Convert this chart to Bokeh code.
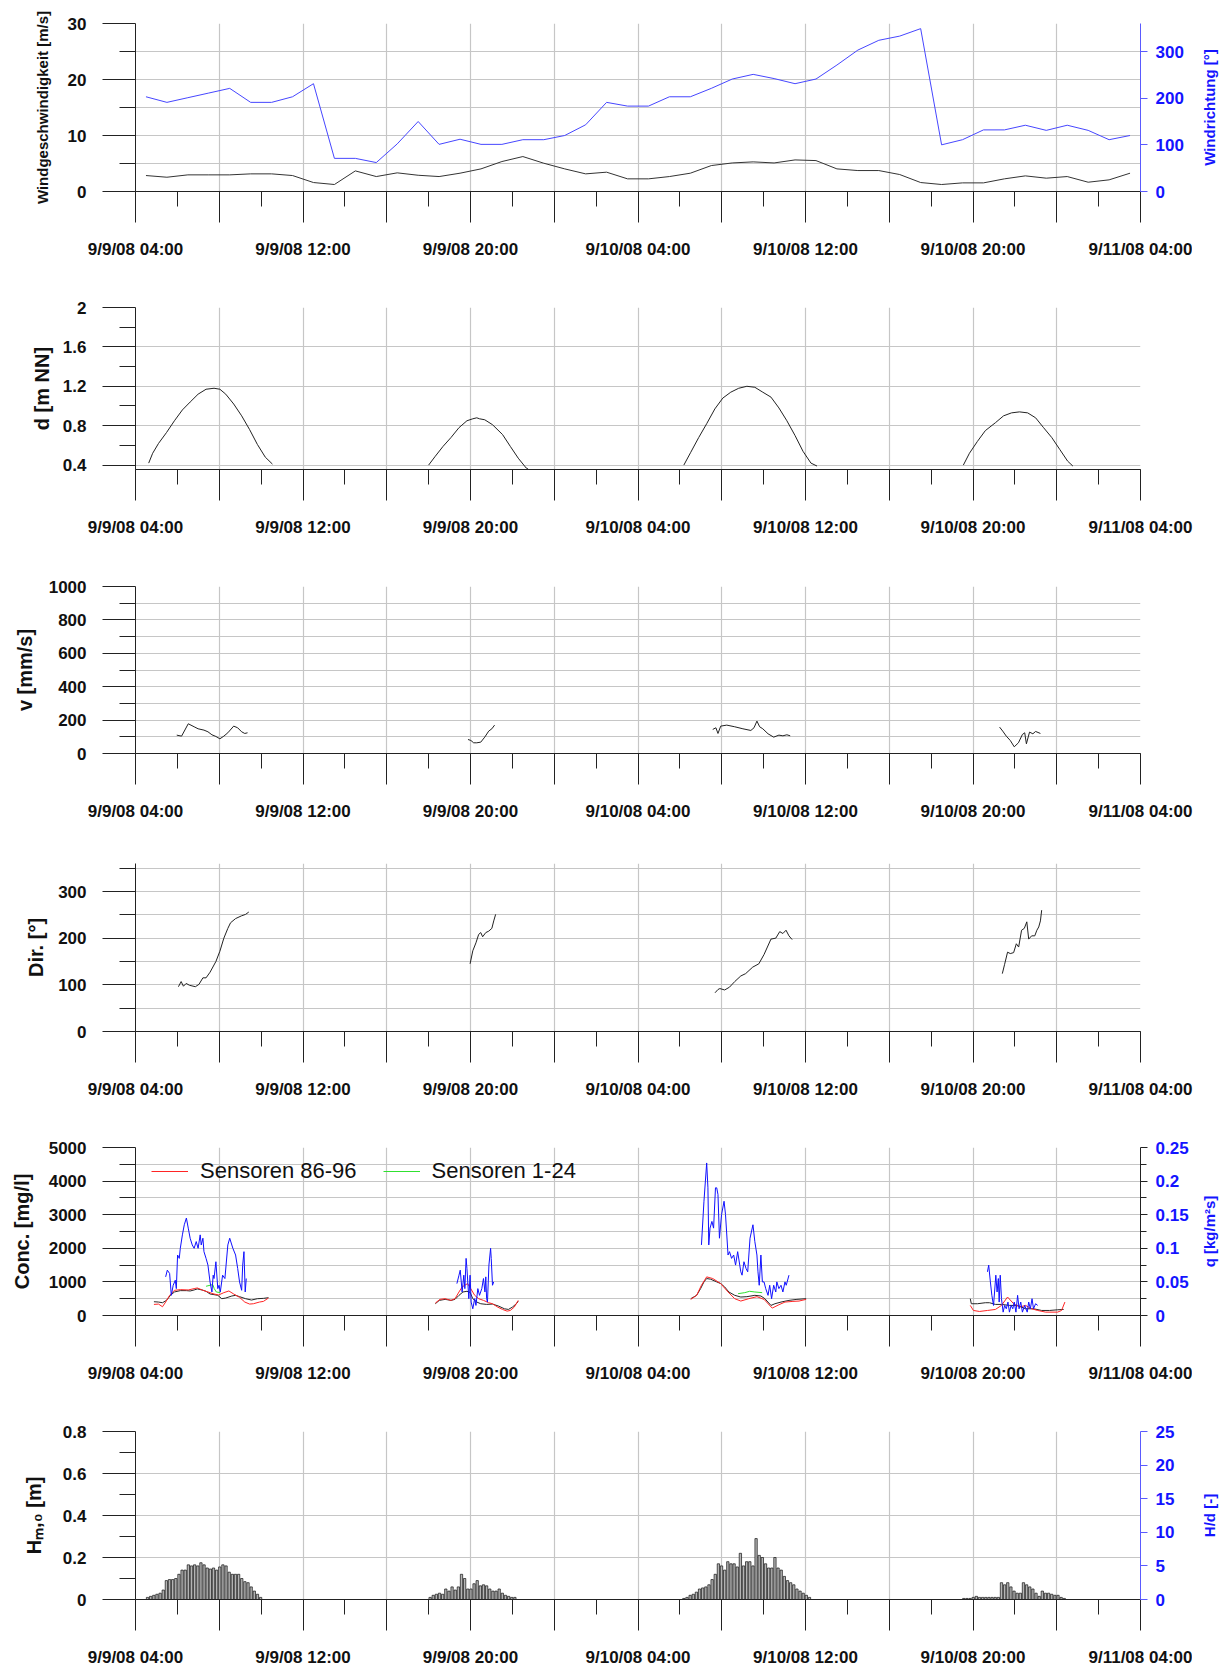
import math
from bokeh.plotting import figure
from bokeh.models import Range1d, LinearAxis, FixedTicker, Legend, LegendItem, Title
from bokeh.layouts import column, row
from bokeh.embed import file_html
from bokeh.resources import INLINE

FONT = "Liberation Sans"
INK = "#222222"
GRID = "#c6c6c6"
BLUE_TXT = "#1414ff"
FRAME_W = 1005

# ---------------- time axis (hours after 9/9/08 04:00) ----------------
time_ticks = [0, 4, 8, 12, 16, 20, 24, 28, 32, 36, 40, 44, 48]
time_minor = list(range(0, 49, 2))
time_labels = {0: "9/9/08 04:00", 8: "9/9/08 12:00", 16: "9/9/08 20:00",
               24: "9/10/08 04:00", 32: "9/10/08 12:00", 40: "9/10/08 20:00",
               48: "9/11/08 04:00"}

# ---------------- wind (hourly values at hh:30) ----------------
wind_t = [h + 0.5 for h in range(48)]
wind_speed = [2.85, 2.55, 2.97, 2.97, 2.97, 3.15, 3.15, 2.85, 1.6, 1.25,
              3.68, 2.67, 3.33, 2.9, 2.67, 3.27, 4.04, 5.35, 6.24, 5.05,
              4.04, 3.15, 3.45, 2.26, 2.26, 2.67, 3.27, 4.63, 5.1, 5.29,
              5.1, 5.64, 5.52, 4.04, 3.74, 3.74, 3.03, 1.6, 1.25, 1.54,
              1.54, 2.26, 2.79, 2.38, 2.67, 1.66, 2.08, 3.27]
wind_dir = [203, 191, 201, 211, 221, 191, 191, 203, 231, 71,
            71, 62, 102, 150, 101, 112, 101, 101, 111, 111,
            120, 143, 191, 183, 183, 203, 203, 221, 241, 251,
            242, 231, 241, 271, 303, 324, 333, 349, 100, 111,
            132, 132, 142, 131, 142, 131, 111, 120]

# ---------------- water depth d [m NN], four submerged periods ----------------
d_t = [[0.63, 0.82, 1.10, 1.48, 1.86, 2.24, 2.61, 2.99, 3.37, 3.75, 4.03, 4.31, 4.69, 5.07, 5.45, 5.82, 6.20, 6.54],
       [14.00, 14.32, 14.69, 15.07, 15.45, 15.83, 16.11, 16.30, 16.43, 16.68, 17.05, 17.53, 17.90, 18.28, 18.66, 18.75],
       [26.19, 26.52, 26.90, 27.28, 27.67, 28.05, 28.43, 28.81, 29.20, 29.58, 29.96, 30.35, 30.73, 31.11, 31.50, 31.88, 32.26, 32.55],
       [39.54, 39.83, 40.21, 40.59, 41.07, 41.46, 41.84, 42.22, 42.61, 42.99, 43.37, 43.76, 44.14, 44.52, 44.77]]
d_val = [[0.42, 0.52, 0.62, 0.73, 0.85, 0.96, 1.04, 1.12, 1.17, 1.18, 1.17, 1.12, 1.02, 0.90, 0.76, 0.61, 0.48, 0.41],
         [0.40, 0.49, 0.59, 0.68, 0.78, 0.85, 0.87, 0.88, 0.87, 0.86, 0.81, 0.71, 0.59, 0.47, 0.37, 0.36],
         [0.40, 0.53, 0.68, 0.82, 0.97, 1.08, 1.14, 1.18, 1.20, 1.19, 1.14, 1.09, 0.98, 0.85, 0.70, 0.54, 0.42, 0.39],
         [0.40, 0.52, 0.64, 0.75, 0.83, 0.90, 0.93, 0.94, 0.93, 0.88, 0.78, 0.68, 0.56, 0.44, 0.39]]

# ---------------- current velocity v [mm/s] ----------------
v_t = [[1.97, 2.20, 2.52, 2.80, 2.99, 3.27, 3.46, 3.65, 3.84, 4.03, 4.22, 4.41, 4.69, 4.88, 5.07, 5.22, 5.35],
       [15.88, 16.02, 16.15, 16.30, 16.49, 16.68, 16.87, 17.02, 17.15],
       [27.57, 27.72, 27.82, 27.95, 28.24, 28.62, 29.01, 29.39, 29.54, 29.68, 29.81, 29.96, 30.21, 30.48, 30.73, 30.92, 31.11, 31.27],
       [41.27, 41.42, 41.59, 41.78, 41.97, 42.17, 42.36, 42.47, 42.55, 42.70, 42.86, 42.99, 43.22]]
v_val = [[110, 104, 178, 160, 148, 140, 130, 112, 102, 88, 104, 124, 164, 154, 130, 120, 124],
         [84, 78, 64, 64, 68, 98, 134, 148, 170],
         [144, 154, 120, 164, 170, 160, 148, 138, 154, 194, 160, 148, 118, 98, 110, 106, 112, 106],
         [158, 134, 104, 78, 40, 64, 114, 124, 58, 128, 118, 132, 120]]

# ---------------- current direction [deg] ----------------
dir_t = [[2.05, 2.18, 2.29, 2.42, 2.58, 2.86, 3.03, 3.22, 3.37, 3.56, 3.84, 4.03, 4.22, 4.41, 4.54, 4.78, 5.07, 5.26, 5.41],
         [15.98, 16.11, 16.26, 16.39, 16.49, 16.58, 16.73, 16.87, 17.02, 17.11, 17.20],
         [27.68, 27.82, 27.91, 28.14, 28.37, 28.62, 28.91, 29.14, 29.48, 29.77, 30.02, 30.35, 30.58, 30.77, 30.92, 31.07, 31.21, 31.36],
         [41.40, 41.51, 41.65, 41.78, 41.94, 42.07, 42.18, 42.32, 42.45, 42.57, 42.66, 42.80, 42.95, 43.05, 43.14, 43.22, 43.28]]
dir_val = [[96, 107, 97, 103, 99, 96, 101, 115, 115, 127, 150, 172, 200, 221, 233, 242, 248, 251, 256],
           [145, 173, 190, 208, 212, 203, 212, 215, 221, 237, 251],
           [83, 90, 92, 89, 95, 107, 119, 124, 138, 145, 165, 198, 200, 214, 210, 217, 205, 197],
           [124, 144, 170, 167, 169, 188, 181, 217, 221, 235, 198, 205, 205, 217, 224, 237, 260]]

# ---------------- suspended sediment concentration [mg/l] ----------------
conc_t = [[0.88, 1.10, 1.29, 1.48, 1.67, 1.86, 2.14, 2.43, 2.61, 2.80, 2.95, 3.18, 3.37, 3.56, 3.75, 3.93, 4.12, 4.31, 4.60, 4.78, 4.97, 5.26, 5.54, 5.82, 6.11, 6.35],
          [14.32, 14.51, 14.79, 15.07, 15.26, 15.45, 15.64, 15.83, 15.98, 16.11, 16.30, 16.49, 16.77, 17.05, 17.34, 17.62, 17.81, 18.00, 18.19, 18.28],
          [26.52, 26.80, 26.99, 27.15, 27.28, 27.47, 27.76, 27.95, 28.14, 28.34, 28.62, 28.91, 29.20, 29.58, 29.87, 30.06, 30.35, 30.54, 30.83, 31.21, 31.59, 32.03],
          [39.87, 39.92, 40.21, 40.59, 40.79, 41.07, 41.36, 41.74, 42.13, 42.51, 42.89, 43.28, 43.66, 44.04, 44.33]]
conc_val = [[410, 400, 380, 450, 600, 700, 740, 740, 730, 760, 790, 760, 720, 640, 620, 600, 500, 520, 580, 600, 560, 500, 460, 500, 510, 530],
            [350, 450, 480, 450, 480, 600, 700, 720, 690, 500, 400, 350, 330, 340, 280, 200, 180, 250, 350, 420],
            [500, 600, 800, 1000, 1100, 1080, 1000, 950, 850, 700, 600, 550, 560, 600, 580, 500, 300, 350, 400, 450, 480, 500],
            [500, 350, 350, 380, 380, 330, 330, 300, 300, 200, 200, 150, 150, 170, 180]]

s86_t = [[0.88, 1.10, 1.29, 1.44, 1.63, 1.86, 2.14, 2.52, 2.80, 2.95, 3.18, 3.46, 3.75, 3.97, 4.22, 4.46, 4.69, 4.97, 5.22, 5.45, 5.63, 5.92, 6.11, 6.35],
         [14.32, 14.54, 14.79, 15.07, 15.26, 15.45, 15.60, 15.73, 15.86, 16.01, 16.20, 16.39, 16.62, 16.87, 17.05, 17.30, 17.53, 17.75, 17.90, 18.09, 18.28],
         [26.52, 26.80, 27.03, 27.28, 27.57, 27.95, 28.30, 28.62, 28.91, 29.29, 29.68, 30.02, 30.41, 30.73, 31.02, 31.40, 31.69, 32.03],
         [39.87, 40.02, 40.31, 40.69, 41.07, 41.36, 41.65, 41.94, 42.22, 42.51, 42.80, 43.09, 43.47, 44.04, 44.23, 44.39]]
s86_val = [[330, 340, 260, 400, 600, 750, 770, 760, 800, 820, 760, 700, 640, 610, 680, 730, 640, 540, 400, 340, 350, 400, 420, 520],
           [370, 480, 500, 450, 500, 700, 850, 900, 950, 800, 600, 500, 450, 380, 350, 250, 180, 130, 150, 250, 450],
           [480, 600, 900, 1150, 1100, 950, 700, 500, 430, 500, 560, 480, 220, 320, 400, 420, 430, 480],
           [300, 150, 120, 150, 180, 300, 550, 350, 250, 300, 200, 150, 100, 100, 150, 400]]

s1_t = [[3.37, 3.56, 3.69, 3.76, 3.86, 4.05],
        [28.78, 29.10, 29.33, 29.58, 29.93]]
s1_val = [[870, 900, 920, 800, 700, 680],
          [650, 680, 720, 700, 680]]

# ---------------- sediment flux q [kg/m²s] ----------------
q_t = [[1.44, 1.52, 1.63, 1.71, 1.80, 1.90, 1.95, 2.01, 2.09, 2.14, 2.24, 2.33, 2.43, 2.52, 2.61, 2.71, 2.80, 2.90, 2.99, 3.09,
        3.14, 3.22, 3.27, 3.37, 3.46, 3.56, 3.65, 3.71, 3.75, 3.84, 3.93, 3.99, 4.05, 4.16, 4.27, 4.41, 4.50, 4.65, 4.78, 4.88,
        4.97, 5.07, 5.12, 5.18, 5.24, 5.29],
       [15.35, 15.45, 15.51, 15.60, 15.68, 15.73, 15.79, 15.83, 15.92, 15.98, 16.03, 16.11, 16.20, 16.26, 16.35, 16.43, 16.54,
        16.62, 16.69, 16.73, 16.77, 16.81, 16.88, 16.96, 16.99, 17.05, 17.11],
       [27.03, 27.15, 27.28, 27.34, 27.38, 27.44, 27.53, 27.61, 27.70, 27.76, 27.82, 27.89, 27.99, 28.11, 28.18, 28.30, 28.37,
        28.47, 28.57, 28.66, 28.76, 28.91, 28.97, 29.06, 29.16, 29.24, 29.35, 29.49, 29.58, 29.68, 29.73, 29.79, 29.87, 29.94,
        30.02, 30.10, 30.21, 30.29, 30.38, 30.48, 30.58, 30.63, 30.73, 30.83, 30.92, 31.02, 31.08, 31.21],
       [40.69, 40.75, 40.83, 40.90, 40.98, 41.03, 41.09, 41.15, 41.21, 41.25, 41.30, 41.36, 41.44, 41.51, 41.59, 41.67, 41.74,
        41.82, 41.90, 41.97, 42.05, 42.13, 42.20, 42.28, 42.36, 42.47, 42.59, 42.66, 42.74, 42.82, 42.89, 42.99, 43.09]]
q_val = [[0.0575, 0.0675, 0.0625, 0.03, 0.045, 0.0525, 0.04, 0.09, 0.085, 0.10, 0.12, 0.135, 0.145, 0.13, 0.115, 0.105, 0.10,
          0.11, 0.10, 0.12, 0.105, 0.115, 0.095, 0.085, 0.075, 0.05, 0.035, 0.06, 0.055, 0.08, 0.04, 0.045, 0.035, 0.06, 0.055,
          0.105, 0.115, 0.10, 0.09, 0.07, 0.05, 0.0375, 0.075, 0.095, 0.035, 0.055],
         [0.0475, 0.06, 0.0675, 0.035, 0.06, 0.04, 0.085, 0.07, 0.025, 0.06, 0.02, 0.01, 0.025, 0.015, 0.04, 0.03, 0.04, 0.055,
          0.035, 0.0575, 0.025, 0.02, 0.075, 0.10, 0.085, 0.045, 0.05],
         [0.105, 0.17, 0.227, 0.19, 0.105, 0.13, 0.14, 0.13, 0.19, 0.19, 0.18, 0.115, 0.15, 0.17, 0.15, 0.09, 0.095, 0.085, 0.09,
          0.075, 0.095, 0.065, 0.06, 0.08, 0.07, 0.065, 0.115, 0.135, 0.11, 0.09, 0.065, 0.045, 0.09, 0.05, 0.05, 0.04, 0.03,
          0.045, 0.025, 0.045, 0.035, 0.05, 0.04, 0.045, 0.035, 0.05, 0.045, 0.06],
         [0.065, 0.075, 0.05, 0.03, 0.015, 0.035, 0.06, 0.035, 0.055, 0.02, 0.06, 0.025, 0.005, 0.015, 0.01, 0.02, 0.005, 0.015,
          0.01, 0.02, 0.005, 0.03, 0.01, 0.02, 0.005, 0.015, 0.005, 0.02, 0.01, 0.025, 0.01, 0.0175, 0.015]]

# ---------------- significant wave height Hm0 [m], bursts every 0.15 h ----------------
hm0_start = [0.575, 14.07, 26.19, 39.56]
hm0_step = 0.15
hm0_val = [[0.01, 0.015, 0.02, 0.025, 0.03, 0.045, 0.09, 0.095, 0.095, 0.10, 0.12, 0.14, 0.14, 0.165, 0.16, 0.165, 0.16,
            0.175, 0.165, 0.15, 0.145, 0.15, 0.14, 0.155, 0.165, 0.16, 0.13, 0.12, 0.12, 0.12, 0.10, 0.085, 0.08, 0.06,
            0.04, 0.025, 0.01],
           [0.01, 0.02, 0.025, 0.03, 0.025, 0.05, 0.04, 0.06, 0.045, 0.06, 0.12, 0.10, 0.05, 0.05, 0.075, 0.09, 0.065,
            0.07, 0.065, 0.05, 0.04, 0.04, 0.05, 0.03, 0.02, 0.015, 0.01, 0.01],
           [0.005, 0.01, 0.02, 0.025, 0.035, 0.05, 0.055, 0.06, 0.07, 0.095, 0.12, 0.17, 0.16, 0.14, 0.18, 0.17, 0.17,
            0.155, 0.22, 0.16, 0.18, 0.18, 0.16, 0.29, 0.21, 0.20, 0.17, 0.15, 0.15, 0.20, 0.15, 0.14, 0.11, 0.09, 0.08,
            0.07, 0.05, 0.04, 0.03, 0.02, 0.01],
           [0.005, 0.005, 0.005, 0.01, 0.015, 0.01, 0.01, 0.01, 0.01, 0.01, 0.01, 0.01, 0.08, 0.07, 0.08, 0.06, 0.04,
            0.03, 0.03, 0.08, 0.07, 0.06, 0.05, 0.03, 0.015, 0.04, 0.03, 0.03, 0.025, 0.02, 0.02, 0.01, 0.005]]

RIGHT_W = 52      # border right of a frame that carries a right axis
SIDE_W = 37       # strip holding that axis' title


def style_axis(ax, color=INK, label_color="#111111"):
    ax.axis_line_color = color
    ax.major_tick_line_color = color
    ax.minor_tick_line_color = color
    ax.major_tick_in = 0
    ax.minor_tick_in = 0
    ax.major_label_text_font = FONT
    ax.major_label_text_font_size = "17px"
    ax.major_label_text_font_style = "bold"
    ax.major_label_text_color = label_color
    ax.axis_label_text_font = FONT
    ax.axis_label_text_font_style = "bold"


def panel(top, frame_h, bottom, y_lo, y_hi, ticks, minors, labels, grid,
          title, title_size, title_standoff, right=RIGHT_W + SIDE_W):
    p = figure(frame_width=FRAME_W, frame_height=frame_h,
               min_border_left=135, min_border_right=right,
               min_border_top=top, min_border_bottom=bottom,
               x_range=Range1d(0, 48), y_range=Range1d(y_lo, y_hi),
               output_backend="svg", toolbar_location=None,
               outline_line_color=None, background_fill_color="white",
               border_fill_color="white")
    xa = p.xaxis[0]
    style_axis(xa)
    xa.ticker = FixedTicker(ticks=time_ticks, minor_ticks=time_minor)
    xa.major_label_overrides = {t: time_labels.get(t, "") for t in time_ticks}
    xa.major_tick_out = 31
    xa.minor_tick_out = 15
    xa.major_label_standoff = 17

    ya = p.yaxis[0]
    style_axis(ya)
    ya.ticker = FixedTicker(ticks=ticks, minor_ticks=minors)
    ya.major_label_overrides = dict(zip(ticks, labels))
    ya.major_tick_out = 33
    ya.minor_tick_out = 16
    ya.major_label_standoff = 16
    ya.axis_label = title
    ya.axis_label_text_font_size = title_size
    ya.axis_label_text_color = "#111111"
    ya.axis_label_standoff = title_standoff

    p.xgrid.ticker = FixedTicker(ticks=time_ticks)
    p.ygrid.ticker = FixedTicker(ticks=grid)
    for g in (p.xgrid, p.ygrid):
        g.grid_line_color = GRID
        g.grid_line_width = 1.2
    return p


def right_axis(p, name, lo, hi, ticks, minors, labels, line_color):
    p.extra_y_ranges[name] = Range1d(lo, hi)
    ax = LinearAxis(y_range_name=name,
                    ticker=FixedTicker(ticks=ticks, minor_ticks=minors))
    style_axis(ax, color=line_color, label_color=BLUE_TXT)
    ax.major_label_overrides = dict(zip(ticks, labels))
    ax.major_tick_out = 7
    ax.minor_tick_out = 6
    ax.major_label_standoff = 8
    p.add_layout(ax, "right")
    return ax


def side_title(text, top, frame_h, bottom):
    # narrow strip whose left-hand title reads bottom-to-top
    s = figure(frame_width=12, frame_height=frame_h,
               min_border_left=SIDE_W - 12, min_border_right=0,
               min_border_top=top, min_border_bottom=bottom,
               x_range=Range1d(0, 1), y_range=Range1d(0, 1),
               x_axis_location=None, y_axis_location=None,
               output_backend="svg", toolbar_location=None,
               outline_line_color=None, background_fill_color="white",
               border_fill_color="white")
    for g in s.grid:
        g.visible = False
    s.add_layout(Title(text=text, align="center", text_color=BLUE_TXT,
                       text_font=FONT, text_font_size="15px", text_font_style="bold",
                       standoff=0), "left")
    return s


# ---- wind ----
p1 = panel(23, 168, 89, 0, 30, [0, 10, 20, 30], [5, 15, 25], ["0", "10", "20", "30"],
           [0, 5, 10, 15, 20, 25, 30], "Windgeschwindigkeit [m/s]", "15px", 14, right=RIGHT_W)
p1.extra_y_ranges = {}
right_axis(p1, "dir", 0, 360, [0, 100, 200, 300], [], ["0", "100", "200", "300"], "#5a5aff")
p1.line(wind_t, wind_speed, line_color="#333333", line_width=1)
p1.line(wind_t, wind_dir, y_range_name="dir", line_color="#4646ff", line_width=1)
row1 = row(p1, side_title("Windrichtung [°]", 23, 168, 89), spacing=0)

# ---- water depth ----
p2 = panel(27, 162, 91, 0.355, 2.0, [0.4, 0.8, 1.2, 1.6, 2.0], [0.6, 1.0, 1.4, 1.8],
           ["0.4", "0.8", "1.2", "1.6", "2"], [0.4, 0.8, 1.2, 1.6, 2.0], "d [m NN]", "20px", 7)
p2.multi_line(d_t, d_val, line_color="#222222", line_width=1)

# ---- velocity ----
p3 = panel(26, 167, 87, 0, 1000, [0, 200, 400, 600, 800, 1000], [100, 300, 500, 700, 900],
           ["0", "200", "400", "600", "800", "1000"], list(range(0, 1001, 100)), "v [mm/s]", "20px", 10)
p3.multi_line(v_t, v_val, line_color="#222222", line_width=1)

# ---- current direction ----
p4 = panel(23, 168, 89, 0, 360, [0, 100, 200, 300], [50, 150, 250, 350],
           ["0", "100", "200", "300"], list(range(0, 351, 50)), "Dir. [°]", "20px", 8)
p4.multi_line(dir_t, dir_val, line_color="#222222", line_width=1)

# ---- concentration and flux ----
p5 = panel(27, 168, 85, 0, 5000, [0, 1000, 2000, 3000, 4000, 5000], [500, 1500, 2500, 3500, 4500],
           ["0", "1000", "2000", "3000", "4000", "5000"], list(range(0, 5001, 500)),
           "Conc. [mg/l]", "20px", 13, right=RIGHT_W)
p5.extra_y_ranges = {}
right_axis(p5, "q", 0, 0.25, [0, 0.05, 0.1, 0.15, 0.2, 0.25], [0.025, 0.075, 0.125, 0.175, 0.225],
           ["0", "0.05", "0.1", "0.15", "0.2", "0.25"], INK)
p5.multi_line(conc_t, conc_val, line_color="#262626", line_width=1)
r_red = p5.multi_line(s86_t, s86_val, line_color="#ff2424", line_width=1)
r_green = p5.multi_line(s1_t, s1_val, line_color="#30e030", line_width=1)
p5.multi_line(q_t, q_val, y_range_name="q", line_color="#1010ff", line_width=1)
legend = Legend(items=[LegendItem(label="Sensoren 86-96", renderers=[r_red]),
                       LegendItem(label="Sensoren 1-24", renderers=[r_green])],
                orientation="horizontal", location=(16, 131),
                border_line_color=None, background_fill_alpha=0,
                label_text_font=FONT, label_text_font_size="22px",
                label_text_color="#111111",
                glyph_width=37, glyph_height=20, label_height=20,
                label_standoff=12, spacing=26, padding=0, margin=0)
p5.add_layout(legend)
row5 = row(p5, side_title("q [kg/m²s]", 27, 168, 85), spacing=0)

# ---- wave height ----
p6 = panel(31, 168, 69, 0, 0.8, [0, 0.2, 0.4, 0.6, 0.8], [0.1, 0.3, 0.5, 0.7],
           ["0", "0.2", "0.4", "0.6", "0.8"], [0, 0.2, 0.4, 0.6, 0.8], "Hₘ,₀ [m]", "20px", 15,
           right=RIGHT_W)
p6.extra_y_ranges = {}
right_axis(p6, "hd", 0, 25, [0, 5, 10, 15, 20, 25], [], ["0", "5", "10", "15", "20", "25"], "#5a5aff")
bar_x, bar_top = [], []
for start, vals in zip(hm0_start, hm0_val):
    for i, v in enumerate(vals):
        bar_x.append(start + i * hm0_step)
        bar_top.append(v)
p6.vbar(x=bar_x, top=bar_top, bottom=0, width=0.11,
        fill_color="#b4b4b4", line_color="#111111", line_width=0.7)
row6 = row(p6, side_title("H/d [-]", 31, 168, 69), spacing=0)

page = column(row1, p2, p3, p4, row5, row6, spacing=0)
open("out.html", "w").write(file_html(page, INLINE))
